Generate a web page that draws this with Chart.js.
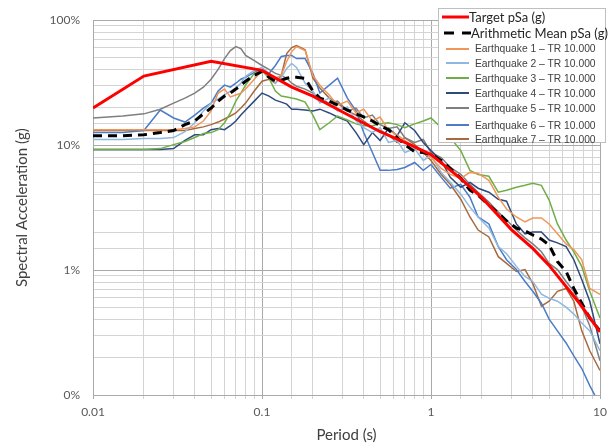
<!DOCTYPE html>
<html>
<head>
<meta charset="utf-8">
<title>Response spectra - TR 10.000</title>
<script src="https://cdn.jsdelivr.net/npm/chart.js@4.4.1/dist/chart.umd.min.js"></script>
<style>
  body { margin: 0; background: #fff; }
  #wrap { position: relative; width: 614px; height: 444px; }
  #legend {
    position: absolute; left: 438px; top: 8px; width: 168px; height: 135px;
    background: #fff; border: 1px solid #bfbfbf; box-sizing: border-box;
  }
  .row { position: absolute; left: 0; height: 16px; display: flex; align-items: center; white-space: nowrap; }
  .row svg { flex: none; }
  .big { font: 13px Lato, sans-serif; color: #262626; }
  .small { font: 10.3px "Liberation Sans", Arial, sans-serif; color: #404040; }
</style>
</head>
<body>
<div id="wrap">
  <canvas id="spectraChart" width="614" height="444"></canvas>
  <div id="legend"></div>
</div>
<script>
// === DATA ===
const periods = [0.01, 0.015, 0.02, 0.025, 0.03, 0.035, 0.04, 0.045, 0.05, 0.055,
  0.06, 0.065, 0.07, 0.075, 0.08, 0.09, 0.1, 0.11, 0.12, 0.13,
  0.14, 0.15, 0.16, 0.18, 0.2, 0.22, 0.25, 0.28, 0.32, 0.36,
  0.4, 0.45, 0.5, 0.56, 0.63, 0.7, 0.8, 0.9, 1.0, 1.15,
  1.3, 1.5, 1.7, 1.9, 2.2, 2.5, 2.8, 3.2, 3.6, 4.0,
  4.5, 5.0, 5.6, 6.3, 7.0, 7.8, 8.7, 10];

const targetPeriods = [0.01, 0.02, 0.05, 0.1, 0.15, 0.2, 0.3, 0.5, 0.75, 1, 1.5, 2, 3, 4, 5, 7.5, 10];
const targetSa = [0.198, 0.357, 0.47, 0.397, 0.291, 0.247, 0.184, 0.128, 0.101, 0.084, 0.054, 0.038, 0.021, 0.0149, 0.0109, 0.0055, 0.0032];

const meanSa = [0.119, 0.119, 0.121, 0.126, 0.131, 0.146, 0.156, 0.178, 0.198, 0.225,
  0.247, 0.261, 0.281, 0.302, 0.325, 0.362, 0.389, 0.349, 0.325, 0.331,
  0.343, 0.349, 0.349, 0.343, 0.271, 0.238, 0.225, 0.209, 0.191, 0.178,
  0.168, 0.156, 0.143, 0.133, 0.115, 0.101, 0.0888, 0.0872, 0.0841, 0.0754,
  0.0651, 0.0542, 0.0436, 0.0398, 0.0331, 0.0286, 0.0247, 0.0217, 0.0206, 0.0191,
  0.0177, 0.0159, 0.0117, 0.00974, 0.00713, 0.00543, 0.00413, 0.00326];

const eq1 = [0.133, 0.133, 0.133, 0.133, 0.133, 0.136, 0.140, 0.156, 0.188, 0.261,
  0.281, 0.243, 0.252, 0.261, 0.281, 0.337, 0.396, 0.368, 0.343, 0.362,
  0.467, 0.561, 0.615, 0.571, 0.362, 0.302, 0.252, 0.209, 0.225, 0.181,
  0.194, 0.156, 0.168, 0.131, 0.121, 0.109, 0.0955, 0.0872, 0.0796, 0.0651,
  0.0583, 0.0542, 0.0605, 0.0594, 0.0523, 0.0383, 0.0308, 0.0266, 0.0243, 0.0261,
  0.0261, 0.0234, 0.0195, 0.0162, 0.0146, 0.0121, 0.00713, 0.0064];

const eq2 = [0.111, 0.111, 0.113, 0.113, 0.115, 0.128, 0.151, 0.188, 0.217, 0.234,
  0.252, 0.271, 0.286, 0.313, 0.355, 0.396, 0.419, 0.375, 0.313, 0.349,
  0.411, 0.450, 0.419, 0.313, 0.271, 0.217, 0.238, 0.188, 0.202, 0.156,
  0.138, 0.126, 0.138, 0.105, 0.109, 0.0872, 0.0938, 0.0754, 0.0826, 0.0605,
  0.0504, 0.0405, 0.0319, 0.0266, 0.0217, 0.0154, 0.0135, 0.0107, 0.00889, 0.00811,
  0.0064, 0.00595, 0.00563, 0.00505, 0.00444, 0.00377, 0.00326, 0.00226];

const eq3 = [0.0921, 0.0921, 0.0921, 0.0938, 0.101, 0.107, 0.115, 0.124, 0.126, 0.133,
  0.151, 0.181, 0.225, 0.261, 0.302, 0.375, 0.396, 0.343, 0.271, 0.247,
  0.243, 0.238, 0.234, 0.221, 0.174, 0.133, 0.151, 0.171, 0.159, 0.148,
  0.143, 0.143, 0.148, 0.151, 0.146, 0.138, 0.148, 0.156, 0.165, 0.138,
  0.115, 0.0904, 0.0628, 0.0583, 0.0563, 0.042, 0.0436, 0.046, 0.0477, 0.0495,
  0.0477, 0.0363, 0.0234, 0.0174, 0.014, 0.0107, 0.00676, 0.00413];

const eq4 = [0.0921, 0.0921, 0.0921, 0.0921, 0.0938, 0.109, 0.121, 0.121, 0.133, 0.136,
  0.133, 0.143, 0.156, 0.174, 0.191, 0.225, 0.261, 0.247, 0.229, 0.221,
  0.213, 0.194, 0.194, 0.191, 0.188, 0.194, 0.181, 0.168, 0.156, 0.126,
  0.101, 0.126, 0.109, 0.136, 0.119, 0.151, 0.131, 0.105, 0.0904, 0.0754,
  0.0552, 0.046, 0.0504, 0.0452, 0.042, 0.0369, 0.0356, 0.0234, 0.0195, 0.0202,
  0.0202, 0.0174, 0.0165, 0.0154, 0.0121, 0.00842, 0.00563, 0.00257];

const eq5 = [0.165, 0.171, 0.178, 0.194, 0.217, 0.238, 0.261, 0.291, 0.337, 0.404,
  0.493, 0.571, 0.615, 0.592, 0.522, 0.475, 0.434, 0.404, 0.375, 0.362,
  0.343, 0.313, 0.296, 0.281, 0.261, 0.234, 0.217, 0.225, 0.188, 0.198,
  0.165, 0.174, 0.146, 0.136, 0.140, 0.115, 0.105, 0.111, 0.0872, 0.0796,
  0.0663, 0.0583, 0.0486, 0.042, 0.035, 0.0291, 0.0252, 0.0209, 0.0181, 0.0162,
  0.014, 0.0113, 0.0101, 0.00811, 0.00676, 0.00514, 0.00357, 0.00188];

const eq6 = [0.126, 0.126, 0.131, 0.191, 0.165, 0.153, 0.174, 0.198, 0.217, 0.271,
  0.302, 0.291, 0.313, 0.337, 0.349, 0.382, 0.404, 0.375, 0.434, 0.512,
  0.522, 0.522, 0.493, 0.493, 0.375, 0.261, 0.302, 0.343, 0.238, 0.188,
  0.126, 0.0872, 0.0628, 0.0628, 0.0639, 0.0663, 0.0726, 0.0628, 0.070, 0.0552,
  0.0452, 0.0486, 0.0383, 0.0266, 0.0234, 0.0154, 0.0121, 0.0101, 0.00811, 0.00676,
  0.00543, 0.00405, 0.00326, 0.00261, 0.00206, 0.00163, 0.00119, 0.00083];

const eq7 = [0.131, 0.131, 0.131, 0.131, 0.131, 0.131, 0.136, 0.140, 0.146, 0.153,
  0.162, 0.171, 0.181, 0.198, 0.217, 0.271, 0.325, 0.337, 0.313, 0.362,
  0.541, 0.604, 0.626, 0.581, 0.343, 0.286, 0.238, 0.217, 0.188, 0.174,
  0.156, 0.138, 0.131, 0.121, 0.105, 0.115, 0.101, 0.0872, 0.0754, 0.0583,
  0.0486, 0.0369, 0.0266, 0.0209, 0.0184, 0.0128, 0.0113, 0.00974, 0.0101, 0.00782,
  0.00514, 0.00563, 0.00676, 0.00713, 0.00563, 0.00326, 0.00226, 0.00157];

const quakes = [eq1, eq2, eq3, eq4, eq5, eq6, eq7];
const quakeNames = [
  "Earthquake 1 – TR 10.000", "Earthquake 2 – TR 10.000", "Earthquake 3 – TR 10.000",
  "Earthquake 4 – TR 10.000", "Earthquake 5 – TR 10.000", "Earthquake 6 – TR 10.000",
  "Earthquake 7 – TR 10.000"
];
const quakeColors = ["#f0965a", "#8fb8e0", "#70ad47", "#2e4a7d", "#7f7f7f", "#4a7cc8", "#a86a3d"];

const targetName = "Target pSa (g)";
const meanName = "Arithmetic Mean pSa (g)";

const xTicks = [0.01, 0.1, 1, 10];
const xTickLabels = ["0.01", "0.1", "1", "10"];
const yTicks = [0.001, 0.01, 0.1, 1];
const yTickLabels = ["0%", "1%", "10%", "100%"];

// === HELPERS ===
const toPoints = (xs, ys) => xs.map((x, i) => ({ x: x, y: ys[i] }));
const isDecade = v => Math.abs(Math.log10(v) - Math.round(Math.log10(v))) < 1e-6;
const labelFor = (v, ticks, labels) => {
  const i = ticks.findIndex(t => Math.abs(t - v) / t < 1e-6);
  return i >= 0 ? labels[i] : "";
};
const gridColor = c => (c.tick && isDecade(c.tick.value)) ? "#a9a9a9" : "#d4d4d4";

// === CHART ===
Chart.defaults.font.family = "Lato, sans-serif";

const datasets = [
  {
    label: targetName,
    data: toPoints(targetPeriods, targetSa),
    borderColor: "#ff0000",
    borderWidth: 3
  },
  {
    label: meanName,
    data: toPoints(periods, meanSa),
    borderColor: "#000000",
    borderWidth: 3,
    borderDash: [9, 6]
  }
];
quakes.forEach((q, i) => {
  datasets.push({
    label: quakeNames[i],
    data: toPoints(periods, q),
    borderColor: quakeColors[i],
    borderWidth: 1.5
  });
});

const ctx = document.getElementById("spectraChart").getContext("2d");
new Chart(ctx, {
  type: "line",
  data: { datasets: datasets },
  options: {
    responsive: false,
    animation: false,
    devicePixelRatio: 1,
    layout: { padding: { top: 17, right: 14, left: 0, bottom: 0 } },
    elements: {
      point: { radius: 0 },
      line: { tension: 0, fill: false }
    },
    plugins: {
      legend: { display: false },
      tooltip: { enabled: false }
    },
    scales: {
      x: {
        type: "logarithmic",
        min: 0.01,
        max: 10,
        afterFit: s => { s.height = 49; },
        grid: { color: gridColor, tickLength: 4, drawTicks: true },
        border: { color: "#a9a9a9" },
        ticks: {
          autoSkip: false,
          maxRotation: 0,
          padding: 6,
          color: "#595959",
          font: { size: 12 },
          callback: v => labelFor(v, xTicks, xTickLabels)
        },
        title: {
          display: true,
          text: "Period (s)",
          color: "#404040",
          font: { size: 15 },
          padding: { top: 0, bottom: 0 }
        }
      },
      y: {
        type: "logarithmic",
        min: 0.001,
        max: 1,
        afterFit: s => { s.width = 93; },
        grid: { color: gridColor, drawTicks: false },
        border: { color: "#a9a9a9" },
        ticks: {
          autoSkip: false,
          padding: 13,
          color: "#595959",
          font: { size: 12 },
          callback: v => labelFor(v, yTicks, yTickLabels)
        },
        title: {
          display: true,
          text: "Spectral Acceleration (g)",
          color: "#404040",
          font: { size: 15 },
          padding: { top: 13, bottom: 0 }
        }
      }
    }
  }
});

// === LEGEND ===
const legend = document.getElementById("legend");
const rowCenters = [7.5, 24, 39.7, 54.3, 69.3, 84.3, 99.3, 116, 130.3];

function addRow(center, svgHtml, text, cls) {
  const row = document.createElement("div");
  row.className = "row " + cls;
  row.style.top = (center - 8) + "px";
  row.innerHTML = svgHtml + "<span>" + text + "</span>";
  legend.appendChild(row);
}

addRow(rowCenters[0],
  '<svg width="30" height="16"><line x1="3" y1="8" x2="30" y2="8" stroke="#ff0000" stroke-width="3"/></svg>',
  targetName, "big");
addRow(rowCenters[1],
  '<svg width="32" height="16"><line x1="5" y1="8" x2="32" y2="8" stroke="#000" stroke-width="3" stroke-dasharray="10 8"/></svg>',
  meanName, "big");
quakeNames.forEach((name, i) => {
  addRow(rowCenters[i + 2],
    '<svg width="36" height="16"><line x1="7" y1="8" x2="30" y2="8" stroke="' + quakeColors[i] + '" stroke-width="2"/></svg>',
    name, "small");
});
</script>
</body>
</html>
